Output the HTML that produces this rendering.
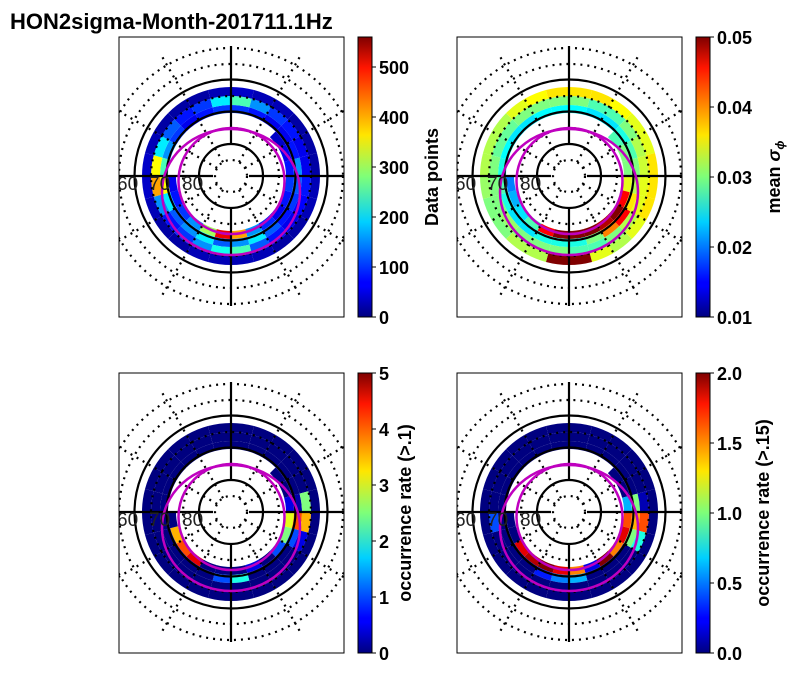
<!DOCTYPE html>
<html><head><meta charset="utf-8"><style>
body{margin:0;background:#fff;}
svg{display:block;font-family:"Liberation Sans","DejaVu Sans",sans-serif;}
</style></head><body>
<svg id="fig" width="799" height="674" xmlns="http://www.w3.org/2000/svg">
<defs>
<linearGradient id="jet" x1="0" y1="1" x2="0" y2="0">
<stop offset="0" stop-color="#00007f"/><stop offset="0.11" stop-color="#0000ff"/>
<stop offset="0.125" stop-color="#0000ff"/><stop offset="0.34" stop-color="#00d0ff"/>
<stop offset="0.5" stop-color="#7dff7a"/><stop offset="0.65" stop-color="#ffe600"/>
<stop offset="0.89" stop-color="#ff1500"/><stop offset="1" stop-color="#7f0000"/>
</linearGradient>
</defs>
<text x="10" y="29" font-size="22" font-weight="bold">HON2sigma-Month-201711.1Hz</text>
</svg>
<script>
// sector data: 24 sectors clockwise from top, 4 rings (inner -> outer); null = no data
const p1r0=[null,null,null,40,60,80,100,80,60,90,150,400,500,300,150,100,80,60,null,null,null,null,null,null];
const p1r1=[100,80,60,60,80,150,120,100,80,120,200,150,120,200,150,120,200,350,250,150,100,60,80,100];
const p1r2=[250,150,100,80,60,60,80,70,60,80,120,250,220,150,100,80,150,400,350,200,120,80,100,200];
const p1r3=[40,30,30,20,20,20,30,30,20,20,30,30,30,30,20,20,30,40,40,30,20,20,20,30];
const p2r0=[null,null,null,0.028,0.03,0.03,0.034,0.045,0.05,0.048,0.05,0.05,0.05,0.045,0.028,0.024,0.022,0.02,null,null,null,null,null,null];
const p2r1=[0.025,0.024,0.024,0.026,0.028,0.03,0.032,0.036,0.045,0.04,0.03,0.026,0.026,0.026,0.024,0.024,0.026,0.028,0.026,0.025,0.024,0.024,0.025,0.025];
const p2r2=[0.03,0.028,0.028,0.03,0.032,0.033,0.034,0.034,0.032,0.03,0.028,0.028,0.03,0.03,0.03,0.031,0.03,0.03,0.03,0.029,0.029,0.03,0.03,0.03];
const p2r3=[0.036,0.036,0.035,0.034,0.034,0.036,0.036,0.036,0.034,0.032,0.034,0.05,0.05,0.032,0.032,0.03,0.03,0.031,0.032,0.032,0.032,0.034,0.035,0.036];
const p3r0=[null,null,null,0,0,0.5,3,2.5,1,0,0.5,0,0,0,4.5,4,3.5,0,null,null,null,null,null,null];
const p3r1=[0,0,0,0,0,0.2,4,1,0,0,0,2,1,0,0,0,0,0,0,0,0,0,0,0];
const p3r2=[0,0,0,0,0,2.5,3.5,0.5,0,0,0,0,0,0,0,0,0,0,0,0,0,0,0,0];
const p3r3=[0,0,0,0,0,0,0,0,0,0,0,0,0,0,0,0,0,0,0,0,0,0,0,0];
const p4r0=[null,null,null,0,0,0.6,1.6,1.8,1.5,2,0.2,1.5,1.8,2,1.9,1.8,0,0,null,null,null,null,null,null];
const p4r1=[0,0,0,0,0,1,1.4,1,0,0,0,0.6,0.5,0.3,0,0,0,0,0,0,0,0,0,0];
const p4r2=[0,0,0,0,0,0.1,1.6,0.8,0,0,0,0,0,0,0,0,0,0.4,0,0,0,0,0,0];
const p4r3=[0,0,0,0,0,0,0,0,0,0,0,0,0,0,0,0,0,0,0,0,0,0,0,0];
const cb1Ticks=[0,100,200,300,400,500];
const cb2Ticks=[0.01,0.02,0.03,0.04,0.05];
const cb3Ticks=[0,1,2,3,4,5];
const cb4Ticks=[0.0,0.5,1.0,1.5,2.0];

const NS='http://www.w3.org/2000/svg';
const fig=document.getElementById('fig');
function mk(tag,attrs,parent){const e=document.createElementNS(NS,tag);for(const k in attrs)e.setAttribute(k,attrs[k]);(parent||fig).appendChild(e);return e;}
function jet(t){t=Math.max(0,Math.min(1,t));
 const r=Math.max(0,Math.min(1,1.5-Math.abs(4*t-3))),g=Math.max(0,Math.min(1,1.5-Math.abs(4*t-2))),b=Math.max(0,Math.min(1,1.5-Math.abs(4*t-1)));
 return `rgb(${Math.round(r*255)},${Math.round(g*255)},${Math.round(b*255)})`;}
const ringR=[55,63,71,80,89];
function panel(px,py,rings,vmin,vmax,ticks,fmt,label,idx){
 const W=225,H=280,cx=px+112,cy=py+139;
 const cid='clip'+idx;
 const cp=mk('clipPath',{id:cid});mk('rect',{x:px,y:py,width:W,height:H},cp);
 const g=mk('g',{'clip-path':`url(#${cid})`});
 
 
 rings.forEach((arr,ri)=>{arr.forEach((v,si)=>{
   if(v===null)return;
   const a0=(si*15-90)*Math.PI/180,a1=((si+1)*15-90)*Math.PI/180,r0=ringR[ri],r1=ringR[ri+1];
   const d=`M${cx+r0*Math.cos(a0)},${cy+r0*Math.sin(a0)} L${cx+r1*Math.cos(a0)},${cy+r1*Math.sin(a0)} A${r1},${r1} 0 0 1 ${cx+r1*Math.cos(a1)},${cy+r1*Math.sin(a1)} L${cx+r0*Math.cos(a1)},${cy+r0*Math.sin(a1)} A${r0},${r0} 0 0 0 ${cx+r0*Math.cos(a0)},${cy+r0*Math.sin(a0)}Z`;
   const p=mk('path',{d:d,fill:jet((v-vmin)/(vmax-vmin))},g);
   
   
 });});
 [16,48,80,112,128].forEach(r=>{mk('circle',{cx:cx,cy:cy,r:r,fill:'none',stroke:'#000','stroke-width':2.2,'stroke-dasharray':'2 5'},g);});
 for(let a=0;a<360;a+=30){if(a%90===0)continue;const t=a*Math.PI/180;
  mk('line',{x1:cx+16*Math.cos(t),y1:cy+16*Math.sin(t),x2:cx+140*Math.cos(t),y2:cy+140*Math.sin(t),stroke:'#000','stroke-width':2.2,'stroke-dasharray':'2 5'},g);}
 [32,64.5,96.5].forEach(r=>{mk('circle',{cx:cx,cy:cy,r:r,fill:'none',stroke:'#000','stroke-width':2.2},g);});
 mk('line',{x1:cx,y1:cy-130,x2:cx,y2:cy-32,stroke:'#000','stroke-width':2.2},g);
 mk('line',{x1:cx,y1:cy+32,x2:cx,y2:cy+130,stroke:'#000','stroke-width':2.2},g);
 mk('line',{x1:px,y1:cy,x2:cx-18,y2:cy,stroke:'#000','stroke-width':2.2},g);
 mk('line',{x1:cx+18,y1:cy,x2:px+W,y2:cy,stroke:'#000','stroke-width':2.2},g);
 mk('ellipse',{cx:cx+0.5,cy:cy+5,rx:53,ry:53,fill:'none',stroke:'#bf00bf','stroke-width':2.5},g);
 mk('ellipse',{cx:cx,cy:cy+16,rx:69,ry:63,fill:'none',stroke:'#bf00bf','stroke-width':2.5},g);
 [['60',px-2],['70',px+30],['80',px+63]].forEach(([t,x])=>{const tx=mk('text',{x:x,y:cy+14,'font-size':19,fill:'#222'},g);tx.textContent=t;
  });
 const box=mk('rect',{x:px,y:py,width:W,height:H,fill:'none',stroke:'#000','stroke-width':1});
 
 const bx=px+239,bw=14;
 const cb=mk('rect',{x:bx,y:py,width:bw,height:H,fill:'url(#jet)',stroke:'#000','stroke-width':1});
 
 ticks.forEach(t=>{const y=py+H-(t-vmin)/(vmax-vmin)*H;
  mk('line',{x1:bx+bw,y1:y,x2:bx+bw+4,y2:y,stroke:'#000','stroke-width':1});
  const tx=mk('text',{x:bx+bw+7,y:y+7,'font-size':18,'font-weight':'bold'});tx.textContent=fmt(t);
  });
 const lx=label.x,ly=py+H/2;
 const lt=mk('text',{x:lx,y:ly,'font-size':18,'font-weight':'bold','text-anchor':'middle',transform:`rotate(-90 ${lx} ${ly})`});
 lt.innerHTML=label.html;
 
}
panel(119,37,[p1r0,p1r1,p1r2,p1r3],0,560,cb1Ticks,t=>String(t),{x:438,html:'Data points'},1);
panel(457,37,[p2r0,p2r1,p2r2,p2r3],0.01,0.05,cb2Ticks,t=>t.toFixed(2),{x:780,html:'mean <tspan font-style="italic">σ</tspan><tspan font-size="12" dy="4" font-style="italic">ϕ</tspan>'},2);
panel(119,373,[p3r0,p3r1,p3r2,p3r3],0,5,cb3Ticks,t=>String(t),{x:411,html:'occurrence rate (&gt;.1)'},3);
panel(457,373,[p4r0,p4r1,p4r2,p4r3],0,2,cb4Ticks,t=>t.toFixed(1),{x:769,html:'occurrence rate (&gt;.15)'},4);
</script>
</body></html>
